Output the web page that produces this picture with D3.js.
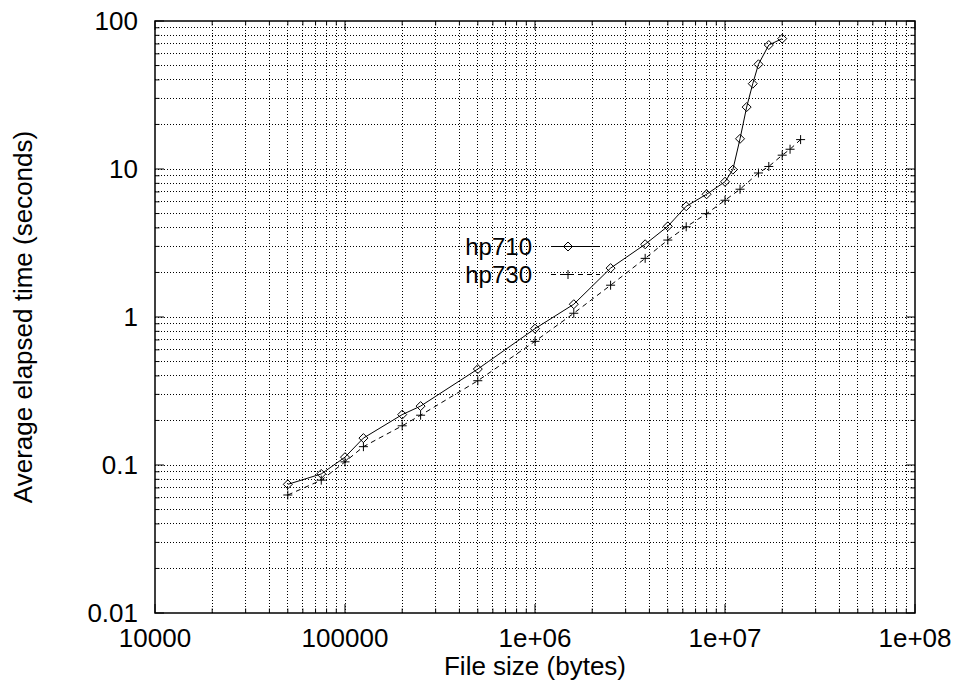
<!DOCTYPE html>
<html>
<head>
  <meta charset="UTF-8">
  <style>
    body {
      margin: 0;
      background: #fff;
    }
    svg text {
      font-family: 'Liberation Sans', Arial, sans-serif;
      font-size: 26px;
      fill: #000;
    }
    svg text.legend {
      font-size: 24px;
    }
    .grid line {
      stroke: #000;
      stroke-width: 1;
      stroke-dasharray: 1,2;
      shape-rendering: crispEdges;
    }
  </style>
  <script src="https://d3js.org/d3.v7.min.js"></script>
</head>
<body>
<svg id="chart" width="959" height="683"></svg>
<script>
// file sizes (bytes) and average elapsed times (seconds)
const hp710Size = [50000, 75000, 100000, 125000, 200000, 250000, 500000, 1000000, 1600000, 2500000,
  3800000, 5000000, 6250000, 8000000, 10000000, 11000000, 12000000, 13000000, 14000000, 15000000,
  17000000, 20000000];
const hp710Time = [0.074, 0.087, 0.113, 0.152, 0.219, 0.25, 0.445, 0.834, 1.22, 2.14,
  3.1, 4.1, 5.6, 6.75, 8.2, 9.9, 16, 26.2, 37.7, 51,
  68.8, 76];

const hp730Size = [50000, 75000, 100000, 125000, 200000, 250000, 500000, 1000000, 1600000, 2500000,
  3800000, 5000000, 6250000, 8000000, 10000000, 12000000, 15000000, 17000000, 20000000, 22000000,
  25000000];
const hp730Time = [0.0627, 0.079, 0.105, 0.133, 0.184, 0.217, 0.371, 0.685, 1.06, 1.64,
  2.49, 3.31, 4.07, 4.99, 6.15, 7.3, 9.4, 10.4, 12.4, 13.6,
  15.8];

const xTickLabels = ['10000', '100000', '1e+06', '1e+07', '1e+08'];
const yTickLabels = ['0.01', '0.1', '1', '10', '100'];
const seriesNames = ['hp710', 'hp730'];

const svg = d3.select('#chart');
const pLeft = 155, pRight = 915, pTop = 21, pBottom = 613;

const x = d3.scaleLog().domain([1e4, 1e8]).range([pLeft, pRight]);
const y = d3.scaleLog().domain([0.01, 100]).range([pBottom, pTop]);

// major + minor tick values (1..9 per decade)
function logTicks(lo, hi) {
  const out = [];
  for (let e = Math.round(Math.log10(lo)); e < Math.round(Math.log10(hi)); e++) {
    for (let k = 1; k <= 9; k++) out.push(k * Math.pow(10, e));
  }
  out.push(hi);
  return out;
}
const xAll = logTicks(1e4, 1e8);
const yAll = logTicks(0.01, 100);
const isMajor = v => Math.abs(Math.log10(v) - Math.round(Math.log10(v))) < 1e-9;

// dotted grid
const grid = svg.append('g').attr('class', 'grid');
grid.selectAll('.gx').data(xAll.filter(v => v > 1e4 * 1.01 && v < 1e8 * 0.99)).join('line')
  .attr('class', 'gx')
  .attr('x1', d => x(d)).attr('x2', d => x(d))
  .attr('y1', pTop).attr('y2', pBottom);
grid.selectAll('.gy').data(yAll.filter(v => v > 0.0101 && v < 99)).join('line')
  .attr('class', 'gy')
  .attr('x1', pLeft).attr('x2', pRight)
  .attr('y1', d => y(d)).attr('y2', d => y(d));

// ticks on all four sides, pointing inward
const tickLen = d => isMajor(d) ? 9 : 4.5;
const ticks = svg.append('g').attr('stroke', '#000').attr('stroke-width', 1);
xAll.forEach(v => {
  ticks.append('line').attr('x1', x(v)).attr('x2', x(v)).attr('y1', pBottom).attr('y2', pBottom - tickLen(v));
  ticks.append('line').attr('x1', x(v)).attr('x2', x(v)).attr('y1', pTop).attr('y2', pTop + tickLen(v));
});
yAll.forEach(v => {
  ticks.append('line').attr('y1', y(v)).attr('y2', y(v)).attr('x1', pLeft).attr('x2', pLeft + tickLen(v));
  ticks.append('line').attr('y1', y(v)).attr('y2', y(v)).attr('x1', pRight).attr('x2', pRight - tickLen(v));
});

// frame
svg.append('rect')
  .attr('x', pLeft).attr('y', pTop)
  .attr('width', pRight - pLeft).attr('height', pBottom - pTop)
  .attr('fill', 'none').attr('stroke', '#000').attr('stroke-width', 1.5);

// tick labels
const xMajors = xAll.filter(isMajor);
svg.append('g').selectAll('text').data(xMajors).join('text')
  .attr('x', d => x(d)).attr('y', pBottom + 34)
  .attr('text-anchor', 'middle')
  .text((d, i) => xTickLabels[i]);

const yMajors = yAll.filter(isMajor);
svg.append('g').selectAll('text').data(yMajors).join('text')
  .attr('x', pLeft - 17).attr('y', d => y(d))
  .attr('dy', '0.36em')
  .attr('text-anchor', 'end')
  .text((d, i) => yTickLabels[i]);

// axis titles
svg.append('text')
  .attr('x', (pLeft + pRight) / 2).attr('y', 675)
  .attr('text-anchor', 'middle')
  .text('File size (bytes)');

svg.append('text')
  .attr('transform', `translate(32,${(pTop + pBottom) / 2}) rotate(-90)`)
  .attr('text-anchor', 'middle')
  .text('Average elapsed time (seconds)');

// markers
function diamond(g, cx, cy) {
  g.append('path')
    .attr('d', `M${cx},${cy - 4.5}L${cx + 4.5},${cy}L${cx},${cy + 4.5}L${cx - 4.5},${cy}Z`)
    .attr('fill', 'none').attr('stroke', '#000').attr('stroke-width', 1);
}
function plus(g, cx, cy) {
  g.append('path')
    .attr('d', `M${cx - 4.5},${cy}H${cx + 4.5}M${cx},${cy - 4.5}V${cy + 4.5}`)
    .attr('fill', 'none').attr('stroke', '#000').attr('stroke-width', 1);
}

const line = d3.line().x(d => x(d[0])).y(d => y(d[1]));
const s710 = d3.zip(hp710Size, hp710Time);
const s730 = d3.zip(hp730Size, hp730Time);

svg.append('path').datum(s730).attr('d', line)
  .attr('fill', 'none').attr('stroke', '#000').attr('stroke-width', 1)
  .attr('stroke-dasharray', '5,4');
svg.append('path').datum(s710).attr('d', line)
  .attr('fill', 'none').attr('stroke', '#000').attr('stroke-width', 1);

const marks = svg.append('g');
s730.forEach(d => plus(marks, x(d[0]), y(d[1])));
s710.forEach(d => diamond(marks, x(d[0]), y(d[1])));

// legend
const legendRows = [246.5, 274.5];
legendRows.forEach((ly, i) => {
  svg.append('text')
    .attr('class', 'legend')
    .attr('x', 532).attr('y', ly).attr('dy', '0.36em')
    .attr('text-anchor', 'end')
    .text(seriesNames[i]);
  svg.append('line')
    .attr('x1', 551).attr('x2', 600).attr('y1', ly).attr('y2', ly)
    .attr('stroke', '#000').attr('stroke-width', 1)
    .attr('stroke-dasharray', i === 0 ? null : '5,4');
  if (i === 0) diamond(svg, 568, ly); else plus(svg, 568, ly);
});
</script>
</body>
</html>
